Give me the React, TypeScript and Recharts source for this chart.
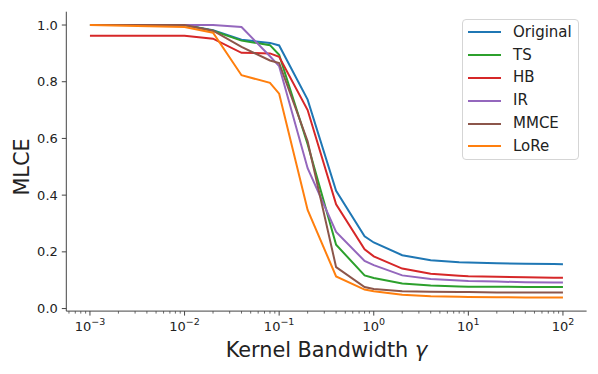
import React from 'react';
import { LineChart, Line, XAxis, YAxis, Legend } from 'recharts';

// kernel bandwidth values (log axis)
const gammas = [0.001, 0.01, 0.02, 0.04, 0.08, 0.1, 0.2, 0.4, 0.8, 1, 2, 4, 8, 10, 20, 40, 80, 100];

const original = [1.0, 1.0, 0.982, 0.948, 0.937, 0.928, 0.737, 0.415, 0.255, 0.233, 0.188, 0.17, 0.163, 0.162, 0.16, 0.158, 0.157, 0.156];
const ts = [1.0, 1.0, 0.98, 0.945, 0.929, 0.895, 0.58, 0.225, 0.117, 0.108, 0.088, 0.081, 0.078, 0.077, 0.077, 0.076, 0.076, 0.076];
const hb = [0.962, 0.962, 0.952, 0.902, 0.9, 0.888, 0.7, 0.368, 0.209, 0.184, 0.141, 0.123, 0.116, 0.114, 0.112, 0.11, 0.109, 0.109];
const ir = [1.0, 1.0, 1.0, 0.993, 0.89, 0.855, 0.495, 0.27, 0.168, 0.153, 0.117, 0.104, 0.099, 0.097, 0.095, 0.093, 0.092, 0.092];
const mmce = [1.0, 1.0, 0.98, 0.923, 0.875, 0.866, 0.59, 0.146, 0.076, 0.069, 0.061, 0.059, 0.058, 0.058, 0.057, 0.057, 0.057, 0.057];
const lore = [1.0, 0.993, 0.973, 0.823, 0.796, 0.758, 0.348, 0.113, 0.067, 0.061, 0.049, 0.043, 0.042, 0.041, 0.04, 0.039, 0.039, 0.039];

const majorTicks = [0.001, 0.01, 0.1, 1, 10, 100];
const yTicks = [0, 0.2, 0.4, 0.6, 0.8, 1.0];

const series = [
  { key: 'original', name: 'Original', color: '#1f77b4' },
  { key: 'ts', name: 'TS', color: '#2ca02c' },
  { key: 'hb', name: 'HB', color: '#d62728' },
  { key: 'ir', name: 'IR', color: '#9467bd' },
  { key: 'mmce', name: 'MMCE', color: '#8c564b' },
  { key: 'lore', name: 'LoRe', color: '#ff7f0e' },
];

const data = gammas.map((g, i) => ({
  g,
  original: original[i],
  ts: ts[i],
  hb: hb[i],
  ir: ir[i],
  mmce: mmce[i],
  lore: lore[i],
}));

// log minor ticks 2..9 per decade
const minorTicks: number[] = [];
[-4, -3, -2, -1, 0, 1, 2].forEach((e) => {
  for (let m = 2; m <= 9; m++) {
    const v = m * Math.pow(10, e);
    if (v > Math.pow(10, -3.25) && v < Math.pow(10, 2.25)) minorTicks.push(v);
  }
});
const allTicks = [...majorTicks, ...minorTicks].sort((a, b) => a - b);

const FONT = 'DejaVu Sans, sans-serif';
const AXIS = '#444';

const XTick = (props: any) => {
  const { x, y, payload } = props;
  const v = payload.value;
  const exp = Math.round(Math.log10(v));
  const isMajor = Math.abs(Math.log10(v) - exp) < 1e-6;
  return (
    <g>
      <line x1={x} x2={x} y1={y} y2={y + (isMajor ? 4.5 : 2.5)} stroke={AXIS} strokeWidth={isMajor ? 1 : 0.8} />
      {isMajor && (
        <text x={x} y={y + 20} textAnchor="middle" fontSize={13} fontFamily={FONT} fill="#222">
          10
          <tspan dy={-6} fontSize={9.5}>{exp < 0 ? '\u2212' + Math.abs(exp) : exp}</tspan>
        </text>
      )}
    </g>
  );
};

const LegendBox = () => (
  <div
    style={{
      position: 'absolute',
      left: 462,
      top: 19,
      width: 117,
      height: 141,
      boxSizing: 'border-box',
      border: '1px solid #d5d5d5',
      borderRadius: 4,
      background: 'rgba(255,255,255,0.8)',
      fontFamily: FONT,
      fontSize: 15,
      color: '#222',
      paddingTop: 1,
    }}
  >
    {series.map((s) => (
      <div key={s.key} style={{ display: 'flex', alignItems: 'center', height: 22.8 }}>
        <div style={{ marginLeft: 4.5, width: 33, height: 2, background: s.color }} />
        <span style={{ marginLeft: 12.5, lineHeight: '15px' }}>{s.name}</span>
      </div>
    ))}
  </div>
);

export default function App() {
  return (
    <div style={{ position: 'absolute', left: 0, top: 0, width: 598, height: 374, background: '#fff' }}>
      <LineChart
        width={598}
        height={374}
        data={data}
        margin={{ top: 11.7, right: 11.4, left: 0, bottom: 0 }}
      >
        <XAxis
          dataKey="g"
          type="number"
          scale="log"
          domain={[Math.pow(10, -3.25), Math.pow(10, 2.25)]}
          allowDataOverflow
          ticks={allTicks}
          interval={0}
          tickSize={0}
          tickMargin={0}
          tickLine={false}
          tick={<XTick />}
          height={62.9}
          axisLine={{ stroke: AXIS, strokeWidth: 1 }}
          label={{
            content: (p: any) => {
              const vb = p.viewBox;
              return (
                <text x={vb.x + vb.width / 2} y={357} textAnchor="middle" fontSize={20.8} fontFamily={FONT} fill="#222">
                  Kernel Bandwidth <tspan fontStyle="italic">γ</tspan>
                </text>
              );
            },
          }}
        />
        <YAxis
          type="number"
          domain={[-0.009, 1.047]}
          allowDataOverflow
          ticks={yTicks}
          interval={0}
          width={66.3}
          tickSize={4.5}
          tickMargin={4}
          tickFormatter={(v: number) => v.toFixed(1)}
          tick={{ fontSize: 13, fontFamily: FONT, fill: '#222' }}
          tickLine={{ stroke: AXIS, strokeWidth: 1 }}
          axisLine={{ stroke: AXIS, strokeWidth: 1 }}
          label={{
            content: () => (
              <text
                x={0}
                y={0}
                transform="translate(28.5,167) rotate(-90)"
                textAnchor="middle"
                fontSize={20.8}
                fontFamily={FONT}
                fill="#222"
              >
                MLCE
              </text>
            ),
          }}
        />
        <Legend
          layout="vertical"
          align="center"
          verticalAlign="middle"
          content={() => null}
        />
        {series.map((s) => (
          <Line
            key={s.key}
            type="linear"
            dataKey={s.key}
            name={s.name}
            stroke={s.color}
            strokeWidth={2}
            dot={false}
            isAnimationActive={false}
          />
        ))}
      </LineChart>
      <LegendBox />
    </div>
  );
}
